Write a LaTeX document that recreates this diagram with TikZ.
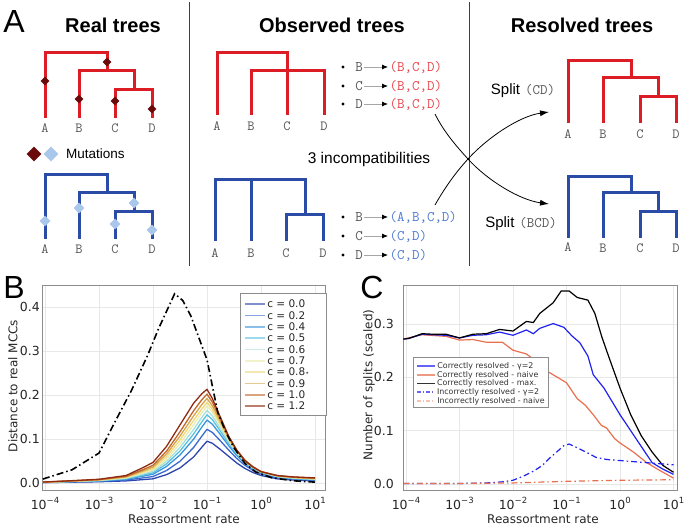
\documentclass[tikz,border=0pt]{standalone}
\usepackage{fontspec}
\setmainfont{Liberation Sans}
\newfontfamily\plotfont{DejaVu Sans}
\usetikzlibrary{shapes.geometric,arrows.meta}

\definecolor{treered}{HTML}{DC1D26}
\definecolor{treeblue}{HTML}{2B4CA6}
\definecolor{mutdark}{HTML}{6A0A0A}
\definecolor{mutlight}{HTML}{A9C6EB}
\definecolor{setred}{HTML}{E8444A}
\definecolor{setblue}{HTML}{4A78D0}
\definecolor{labgray}{HTML}{555555}
\definecolor{gridgray}{HTML}{E8E8E8}
% colours of the c curves
\definecolor{c00}{HTML}{2E45AE}
\definecolor{c02}{HTML}{3A6AD0}
\definecolor{c04}{HTML}{3A96DC}
\definecolor{c05}{HTML}{5AC0E0}
\definecolor{c06}{HTML}{A6E0DC}
\definecolor{c07}{HTML}{E8ECB0}
\definecolor{c08}{HTML}{F0D878}
\definecolor{c09}{HTML}{D8A44C}
\definecolor{c10}{HTML}{C0682A}
\definecolor{c12}{HTML}{902A10}
\definecolor{cblue}{HTML}{2222F0}
\definecolor{corange}{HTML}{E8704E}

% one curve of panel B: peak, weight (0 = c 0.0, 1 = c 1.2), colour
\newcommand{\mccmix}[2]{(#1+\mccwt*(#2-#1))}
\newcommand{\mccline}[3]{%
  \def\mccpk{#1}\def\mccwt{#2}%
  \draw[mcc,color=#3] plot coordinates {(-4.04,{\mccpk*\mccmix{0.01}{0.01}})
    (-3.5,{\mccpk*\mccmix{0.02}{0.025}}) (-3,{\mccpk*\mccmix{0.03}{0.04}})
    (-2.5,{\mccpk*\mccmix{0.05}{0.08}}) (-2.2,{\mccpk*\mccmix{0.08}{0.16}})
    (-2,{\mccpk*\mccmix{0.10}{0.22}}) (-1.75,{\mccpk*\mccmix{0.2}{0.39}})
    (-1.5,{\mccpk*\mccmix{0.36}{0.62}}) (-1.25,{\mccpk*\mccmix{0.62}{0.85}})
    (-1.1,{\mccpk*\mccmix{0.85}{0.95}}) (-1,{\mccpk*\mccmix{1}{1}})
    (-0.9,{\mccpk*\mccmix{0.95}{0.9}}) (-0.75,{\mccpk*\mccmix{0.8}{0.7}})
    (-0.6,{\mccpk*\mccmix{0.64}{0.5}}) (-0.45,{\mccpk*\mccmix{0.48}{0.35}})
    (-0.3,{\mccpk*\mccmix{0.35}{0.24}}) (-0.15,{\mccpk*\mccmix{0.25}{0.17}})
    (0,{\mccpk*\mccmix{0.18}{0.12}}) (0.3,{\mccpk*\mccmix{0.1}{0.08}})
    (0.6,{\mccpk*\mccmix{0.07}{0.065}}) (1,{\mccpk*\mccmix{0.05}{0.055}})};}

\begin{document}
\begin{tikzpicture}[x=1pt,y=-1pt,
    redtree/.style={line width=3pt,treered},
    bluetree/.style={line width=3pt,treeblue},
    leaf/.style={font=\ttfamily\fontsize{14}{14}\selectfont,text=labgray,inner sep=1pt},
    lst/.style={font=\ttfamily\fontsize{14.5}{15}\selectfont,text=labgray,inner sep=1.5pt},
    setr/.style={lst,text=setred,anchor=west},
    setb/.style={lst,text=setblue,anchor=west},
    lstarrow/.style={draw=gray!70,line width=0.8pt,-{Latex[length=6pt,width=5pt,color=black]}},
    mutd/.style={diamond,fill=mutdark,inner sep=0pt,minimum size=9pt},
    mutl/.style={diamond,fill=mutlight,inner sep=0pt,minimum size=11pt},
    title/.style={font=\fontsize{20}{24}\selectfont\bfseries},
    panel/.style={font=\fontsize{32}{32}\selectfont},
    txt/.style={font=\fontsize{15.5}{18}\selectfont},
    cross/.style={line width=0.8pt,-{Latex[length=9pt,width=6pt]}},
    sep/.style={line width=1pt,black!75},
    tick/.style={font=\plotfont\fontsize{12.5}{14}\selectfont,text=black!85,inner sep=1pt},
    axlab/.style={font=\plotfont\fontsize{12}{14}\selectfont,text=black!85},
    gridline/.style={gridgray,line width=0.6pt},
    frame/.style={draw=black!45,line width=0.7pt},
    mcc/.style={line width=1.3pt,line join=round},
    lgd/.style={line width=1.6pt,draw opacity=0.6},
    lgdtext/.style={font=\plotfont\fontsize{10.5}{12}\selectfont,anchor=west,inner sep=1.5pt,text=black!85},
    lgdctext/.style={font=\plotfont\fontsize{7.9}{9}\selectfont,anchor=west,inner sep=1.5pt,text=black!80}]
\useasboundingbox (0,0) rectangle (687,526);

% ---------- panel A ----------
\node[panel] (pa) at (14,21) {A};
\node[title] (treal) at (113,25) {Real trees};
\node[title] (tobs) at (332,25) {Observed trees};
\node[title] (tres) at (582,25) {Resolved trees};
\draw[sep] (189,2) -- (189,266);
\draw[sep] (469,2) -- (469,266);

% real trees
\draw[redtree] (45,118) |- (107,53) -- (107,71);
\draw[redtree] (79,118) |- (134,71) -- (134,90);
\draw[redtree] (115,118) |- (152,90) -- (152,118);
\node[mutd] (md1) at (45,81) {};
\node[mutd] (md2) at (107,62) {};
\node[mutd] (md3) at (79,99) {};
\node[mutd] (md4) at (115,101) {};
\node[mutd] (md5) at (152,109) {};
\node[leaf] (ra) at (45,128) {A};
\node[leaf] (rb) at (79,128) {B};
\node[leaf] (rc) at (115,128) {C};
\node[leaf] (rd) at (152,128) {D};

\node[mutd,minimum size=15pt] (lgd1) at (34,154) {};
\node[mutl,minimum size=15pt] (lgd2) at (51,154) {};
\node[font=\fontsize{13.5}{16}\selectfont,anchor=west,inner sep=0pt] (mut) at (66,154) {Mutations};

\draw[bluetree] (45,239) |- (107,175) -- (107,193);
\draw[bluetree] (79,239) |- (134,193) -- (134,212);
\draw[bluetree] (115,239) |- (152,212) -- (152,239);
\node[mutl] (ml1) at (45,221) {};
\node[mutl] (ml2) at (79,208) {};
\node[mutl] (ml3) at (134,203) {};
\node[mutl] (ml4) at (115,224) {};
\node[mutl] (ml5) at (152,230) {};
\node[leaf] (ba) at (45,249) {A};
\node[leaf] (bb) at (79,249) {B};
\node[leaf] (bc) at (115,249) {C};
\node[leaf] (bd) at (152,249) {D};

% observed trees
\draw[redtree] (217,115) |- (287,53) -- (287,115);
\draw[redtree] (251,115) |- (324,71) -- (324,115);
\node[leaf] (ora) at (217,126) {A};
\node[leaf] (orb) at (251,126) {B};
\node[leaf] (orc) at (287,126) {C};
\node[leaf] (ord) at (324,126) {D};

\draw[bluetree] (215,241) |- (305,180) -- (305,215);
\draw[bluetree] (251,180) -- (251,241);
\draw[bluetree] (286,241) |- (323,215) -- (323,241);
\node[leaf] (oba) at (215,253) {A};
\node[leaf] (obb) at (251,253) {B};
\node[leaf] (obc) at (286,253) {C};
\node[leaf] (obd) at (323,253) {D};

% incompatibility lists
\fill (343,67) circle (1.6);
\fill (343,86) circle (1.6);
\fill (343,104) circle (1.6);
\node[lst] (lr1) at (359,67) {B};
\node[lst] (lr2) at (359,86) {C};
\node[lst] (lr3) at (359,104) {D};
\node[setr] (sr1) at (388,67) {(B,C,D)};
\node[setr] (sr2) at (388,86) {(B,C,D)};
\node[setr] (sr3) at (388,104) {(B,C,D)};
\draw[lstarrow] (lr1) -- (sr1);
\draw[lstarrow] (lr2) -- (sr2);
\draw[lstarrow] (lr3) -- (sr3);

\node[txt] (incomp) at (369,159) {3 incompatibilities};

\fill (343,217) circle (1.6);
\fill (343,236) circle (1.6);
\fill (343,255) circle (1.6);
\node[lst] (lb1) at (359,217) {B};
\node[lst] (lb2) at (359,236) {C};
\node[lst] (lb3) at (359,255) {D};
\node[setb] (sb1) at (388,217) {(A,B,C,D)};
\node[setb] (sb2) at (388,236) {(C,D)};
\node[setb] (sb3) at (388,255) {(C,D)};
\draw[lstarrow] (lb1) -- (sb1);
\draw[lstarrow] (lb2) -- (sb2);
\draw[lstarrow] (lb3) -- (sb3);

% crossing arrows
\coordinate (xc) at (468,159);
\coordinate (fromr) at (435,114);
\coordinate (fromb) at (435,205);
\coordinate (tocd) at (549,112);
\coordinate (tobcd) at (549,204);
\draw[cross] (fromr) .. controls (443,130) and (453,142.5) .. (xc) .. controls (488,181) and (520,200) .. (tobcd);
\draw[cross] (fromb) .. controls (443,191) and (453,175.5) .. (xc) .. controls (488,137) and (520,116) .. (tocd);

% resolved trees
\node[txt,font=\fontsize{15}{18}\selectfont] (split1) at (523,91) {Split\hspace{5pt}{\ttfamily\fontsize{14.5}{15}\selectfont\color{labgray}(CD)}};
\node[txt,font=\fontsize{15}{18}\selectfont] (split2) at (521,224) {Split\hspace{5pt}{\ttfamily\fontsize{14.5}{15}\selectfont\color{labgray}(BCD)}};

\draw[redtree] (568,123) |- (631,61) -- (631,78);
\draw[redtree] (603,123) |- (658,78) -- (658,97);
\draw[redtree] (640,123) |- (676,97) -- (676,123);
\node[leaf] (esa) at (568,134) {A};
\node[leaf] (esb) at (603,134) {B};
\node[leaf] (esc) at (640,134) {C};
\node[leaf] (esd) at (676,134) {D};

\draw[bluetree] (568,238) |- (631,177) -- (631,193);
\draw[bluetree] (603,238) |- (658,193) -- (658,212);
\draw[bluetree] (640,238) |- (676,212) -- (676,238);
\node[leaf] (eba) at (568,247) {A};
\node[leaf] (ebb) at (603,248) {B};
\node[leaf] (ebc) at (640,248) {C};
\node[leaf] (ebd) at (676,248) {D};

% ---------- panel B ----------
\node[panel] (pb) at (14,287) {B};
\begin{scope}[shift={(261,483)},x=54pt,y=440pt]
  \draw[gridline,xstep=1,ystep=0.1] (-4.04,-0.016) grid (1.185,0.45);
  \draw[frame] (-4.04,-0.016) rectangle (1.185,0.45);
  \mccline{0.095}{0}{c00}
  \mccline{0.122}{0.17}{c02}
  \mccline{0.143}{0.33}{c04}
  \mccline{0.155}{0.42}{c05}
  \mccline{0.165}{0.5}{c06}
  \mccline{0.175}{0.58}{c07}
  \mccline{0.183}{0.67}{c08}
  \mccline{0.192}{0.75}{c09}
  \mccline{0.202}{0.83}{c10}
  \mccline{0.213}{1}{c12}
  \draw[line width=1.6pt,dash pattern=on 7pt off 3pt on 1.5pt off 3pt] plot coordinates {(-4.04,0.009) (-3.5,0.03) (-3,0.068) (-2.7,0.14) (-2.4,0.21) (-2.1,0.29) (-1.9,0.35) (-1.75,0.39) (-1.6,0.43) (-1.45,0.415) (-1.3,0.38) (-1.15,0.33) (-1,0.28) (-0.9,0.22) (-0.8,0.16) (-0.65,0.115) (-0.5,0.08) (-0.3,0.045) (-0.1,0.025) (0.2,0.012) (0.6,0.005) (1,0.002)};
\end{scope}
\node[tick,anchor=east] (by0) at (41,483) {0.0};
\node[tick,anchor=east] (by1) at (41,439) {0.1};
\node[tick,anchor=east] (by2) at (41,395) {0.2};
\node[tick,anchor=east] (by3) at (41,351) {0.3};
\node[tick,anchor=east] (by4) at (41,307) {0.4};
\node[tick,anchor=base] (bx1) at (45,509) {10\raisebox{0.85ex}{\fontsize{8.5}{9}\selectfont −4}};
\node[tick,anchor=base] (bx2) at (99,509) {10\raisebox{0.85ex}{\fontsize{8.5}{9}\selectfont −3}};
\node[tick,anchor=base] (bx3) at (153,509) {10\raisebox{0.85ex}{\fontsize{8.5}{9}\selectfont −2}};
\node[tick,anchor=base] (bx4) at (207,509) {10\raisebox{0.85ex}{\fontsize{8.5}{9}\selectfont −1}};
\node[tick,anchor=base] (bx5) at (261,509) {10\raisebox{0.85ex}{\fontsize{8.5}{9}\selectfont 0}};
\node[tick,anchor=base] (bx6) at (315,509) {10\raisebox{0.85ex}{\fontsize{8.5}{9}\selectfont 1}};
\node[axlab] (bxl) at (184,519) {Reassortment rate};
\node[axlab,rotate=90] (byl) at (13,386) {Distance to real MCCs};

% legend B
\draw[frame,fill=white] (240,293) rectangle (326,415);
\draw[lgd,c00] (245,304) -- (265,304) node[lgdtext] (l00) {c = 0.0};
\draw[lgd,c02] (245,315.3) -- (265,315.3) node[lgdtext] (l02) {c = 0.2};
\draw[lgd,c04] (245,326.7) -- (265,326.7) node[lgdtext] (l04) {c = 0.4};
\draw[lgd,c05] (245,338) -- (265,338) node[lgdtext] (l05) {c = 0.5};
\draw[lgd,c06] (245,349.3) -- (265,349.3) node[lgdtext] (l06) {c = 0.6};
\draw[lgd,c07] (245,360.7) -- (265,360.7) node[lgdtext] (l07) {c = 0.7};
\draw[lgd,c08] (245,372) -- (265,372) node[lgdtext] (l08) {c = 0.8{\fontsize{7}{7}\selectfont ⋆}};
\draw[lgd,c09] (245,383.3) -- (265,383.3) node[lgdtext] (l09) {c = 0.9};
\draw[lgd,c10] (245,394.7) -- (265,394.7) node[lgdtext] (l10) {c = 1.0};
\draw[lgd,c12] (245,406) -- (265,406) node[lgdtext] (l12) {c = 1.2};

% ---------- panel C ----------
\node[panel] (pc) at (372,287) {C};
\begin{scope}[shift={(620,484)},x=53.5pt,y=533pt]
  \draw[gridline,xstep=1,ystep=0.1] (-4.056,-0.0113) grid (1.065,0.373);
  \draw[frame] (-4.056,-0.0113) rectangle (1.065,0.373);
  % correctly resolved - naive
  \draw[corange,line width=1.2pt] plot coordinates {(-4.05,0.272) (-3.7,0.28) (-3.25,0.277) (-3,0.27) (-2.75,0.271) (-2.5,0.266) (-2.2,0.266) (-2,0.251) (-1.75,0.244) (-1.6,0.233) (-1.5,0.22) (-1.25,0.205) (-1,0.19) (-0.8,0.16) (-0.65,0.148) (-0.5,0.13) (-0.35,0.11) (-0.25,0.105) (-0.1,0.085) (0,0.077) (0.25,0.06) (0.5,0.04) (0.75,0.025) (1,0.011)};
  % correctly resolved - gamma 2
  \draw[cblue,line width=1.2pt] plot coordinates {(-4.05,0.272) (-3.95,0.273) (-3.7,0.281) (-3.5,0.28) (-3.25,0.279) (-3,0.274) (-2.75,0.279) (-2.5,0.28) (-2.25,0.285) (-2,0.279) (-1.75,0.289) (-1.62,0.282) (-1.5,0.292) (-1.25,0.301) (-1.05,0.294) (-0.9,0.278) (-0.75,0.265) (-0.6,0.24) (-0.5,0.205) (-0.3,0.18) (-0.15,0.155) (0,0.13) (0.2,0.1) (0.4,0.07) (0.6,0.04) (0.8,0.028) (1,0.018)};
  % correctly resolved - max
  \draw[black,line width=1.2pt] plot coordinates {(-4.05,0.272) (-3.95,0.273) (-3.7,0.282) (-3.5,0.281) (-3.25,0.281) (-3,0.274) (-2.75,0.281) (-2.5,0.282) (-2.25,0.29) (-2,0.287) (-1.75,0.305) (-1.62,0.303) (-1.5,0.32) (-1.25,0.34) (-1.1,0.362) (-0.95,0.362) (-0.8,0.35) (-0.6,0.345) (-0.47,0.32) (-0.34,0.276) (-0.19,0.233) (0,0.18) (0.2,0.13) (0.4,0.09) (0.6,0.06) (0.8,0.035) (1,0.022)};
  % incorrectly resolved
  \draw[cblue,line width=1.2pt,dash pattern=on 6pt off 3pt on 1.5pt off 3pt] plot coordinates {(-4.05,0.001) (-3,0.001) (-2.5,0.002) (-2.2,0.004) (-2,0.007) (-1.8,0.015) (-1.6,0.025) (-1.45,0.035) (-1.3,0.05) (-1.15,0.063) (-1.05,0.072) (-0.95,0.075) (-0.8,0.068) (-0.6,0.058) (-0.45,0.05) (-0.25,0.046) (0,0.044) (0.25,0.042) (0.5,0.04) (0.75,0.038) (1,0.036)};
  \draw[corange,line width=1.2pt,dash pattern=on 6pt off 3pt on 1.5pt off 3pt] plot coordinates {(-4.05,0.001) (-3,0.001) (-2,0.002) (-1,0.005) (0,0.007) (1,0.008)};
\end{scope}
\node[tick,anchor=east] (cy0) at (395,484) {0.0};
\node[tick,anchor=east] (cy1) at (395,430.7) {0.1};
\node[tick,anchor=east] (cy2) at (395,377.4) {0.2};
\node[tick,anchor=east] (cy3) at (395,324.1) {0.3};
\node[tick,anchor=base] (cx1) at (406,509) {10\raisebox{0.85ex}{\fontsize{8.5}{9}\selectfont −4}};
\node[tick,anchor=base] (cx2) at (459.5,509) {10\raisebox{0.85ex}{\fontsize{8.5}{9}\selectfont −3}};
\node[tick,anchor=base] (cx3) at (513,509) {10\raisebox{0.85ex}{\fontsize{8.5}{9}\selectfont −2}};
\node[tick,anchor=base] (cx4) at (566.5,509) {10\raisebox{0.85ex}{\fontsize{8.5}{9}\selectfont −1}};
\node[tick,anchor=base] (cx5) at (620,509) {10\raisebox{0.85ex}{\fontsize{8.5}{9}\selectfont 0}};
\node[tick,anchor=base] (cx6) at (673.5,509) {10\raisebox{0.85ex}{\fontsize{8.5}{9}\selectfont 1}};
\node[axlab] (cxl) at (543,519) {Reassortment rate};
\node[axlab,rotate=90] (cyl) at (369,385) {Number of splits (scaled)};

% legend C
\draw[frame,fill=white] (413,357) rectangle (548,407);
\draw[cblue,line width=1.8pt,draw opacity=0.7] (417,366) -- (435,366) node[lgdctext] (lc1) {Correctly resolved - γ=2};
\draw[corange,line width=1.1pt,draw opacity=0.7] (417,375) -- (435,375) node[lgdctext] (lc2) {Correctly resolved - naive};
\draw[black,line width=1.1pt,draw opacity=0.8] (417,383.5) -- (435,383.5) node[lgdctext] (lc3) {Correctly resolved - max.};
\draw[cblue,line width=1.1pt,draw opacity=0.7,dash pattern=on 4pt off 2pt on 1.2pt off 2pt] (417,392) -- (435,392) node[lgdctext] (lc4) {Incorrectly resolved - γ=2};
\draw[corange!60,line width=1.6pt,draw opacity=0.7,dash pattern=on 4pt off 2pt on 1.2pt off 2pt] (417,401) -- (435,401) node[lgdctext] (lc5) {Incorrectly resolved - naive};
\end{tikzpicture}
\end{document}
